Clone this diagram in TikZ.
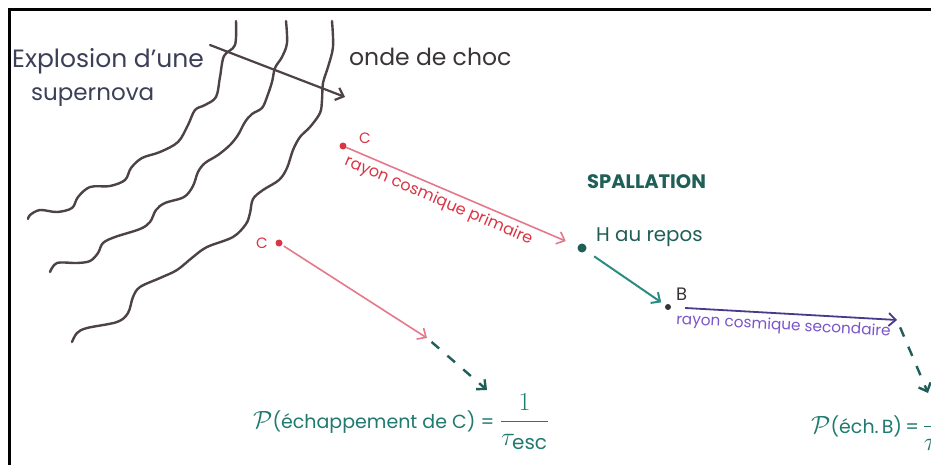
\documentclass[tikz,border=0pt]{standalone}
\usepackage{amsmath}
\usepackage{graphicx}
\usepackage{fontspec}
\setmainfont{Poppins}
\usetikzlibrary{arrows.meta}
\definecolor{slate}{HTML}{3B4058}
\definecolor{darkg}{HTML}{3A3435}
\definecolor{wavec}{HTML}{4D4244}
\definecolor{redc}{HTML}{D93545}
\definecolor{pinkc}{HTML}{E5788A}
\definecolor{tealt}{HTML}{1F5F58}
\definecolor{teala}{HTML}{2C8B82}
\definecolor{tealf}{HTML}{1F7A70}
\definecolor{purl}{HTML}{4B3A8C}
\definecolor{purt}{HTML}{7A55C8}
\newcommand{\escfrac}{\scalebox{1.5}{$\dfrac{1}{\tau_{\mathrm{esc}}}$}}
\begin{document}
\begin{tikzpicture}[x=1pt,y=-1pt,
  wave/.style={draw=wavec, line width=2.4pt, line cap=round, line join=round},
  barb/.style={-{Straight Barb[length=7pt,width=13pt]}},
  reddot/.style={circle, fill=redc, inner sep=0pt, minimum size=7pt},
  tdot/.style={circle, fill=tealt, inner sep=0pt, minimum size=9pt},
  bdot/.style={circle, fill=darkg, inner sep=0pt, minimum size=6pt},
  lbl/.style={anchor=base west, inner sep=0pt},
  dashy/.style={draw=tealt, line width=2.4pt, dash pattern=on 10pt off 11pt, barb}
]
\useasboundingbox (0,0) rectangle (931,464);
\clip (0,0) rectangle (931,464);
\fill[white] (0,0) rectangle (931,464);
% frame
\draw[line width=3pt] (9,465) -- (9,9.5) -- (932,9.5);

% waves
\draw[wave] plot[smooth, tension=0.55] coordinates {(236,21) (235,45) (224,56) (220,77) (216,97) (205,105) (195,110) (188,125) (178,142) (160,152) (142,158) (131,168) (125,180) (110,186) (90,187) (78,197) (72,208) (57,212) (40,210) (30,215) (28,219)};
\draw[wave] plot[smooth, tension=0.55] coordinates {(286,21) (287,43) (282,57) (275,68) (272,82) (267,97) (262,108) (252,114) (245,122) (238,135) (230,145) (218,155) (205,163) (198,172) (193,186) (184,197) (165,203) (156,210) (150,222) (140,229) (115,237) (103,243) (98,253) (90,261) (77,263) (57,263) (50,272)};
\draw[wave] plot[smooth, tension=0.55] coordinates {(332,21) (333,47) (328,67) (323,83) (322,100) (320,113) (310,127) (300,137) (293,150) (287,168) (279,180) (263,190) (253,199) (250,213) (246,224) (233,237) (207,247) (193,257) (177,270) (160,278) (140,287) (133,297) (128,313) (117,322) (87,328) (77,333) (72,342)};

% shock arrow
\coordinate (sa) at (210,45);
\coordinate (sb) at (345,97);
\draw[wavec, line width=2.2pt, line cap=round, barb] (sa) -- (sb);

% texts top-left
\node[lbl, text=slate, font=\fontsize{25}{28}\selectfont] (expl) at (12,67) {Explosion d'une};
\node[lbl, text=slate, font=\fontsize{23}{26}\selectfont] (sn) at (31,100) {supernova};
\node[lbl, text=darkg, font=\fontsize{23.5}{26}\selectfont] (onde) at (349,65) {onde de choc};

% primary ray
\node[reddot] (c1) at (343,146) {};
\node[lbl, text=redc, font=\fontsize{15}{17}\selectfont] (c1l) at (359,143) {C};
\node[tdot] (h) at (582,248) {};
\node[lbl, text=tealt, font=\fontsize{19.8}{22}\selectfont] (hl) at (596,241) {H au repos};
\node[lbl, text=tealt, font=\bfseries\fontsize{19.5}{22}\selectfont] (spal) at (587,188) {SPALLATION};
\draw[pinkc, line width=1.6pt, barb, shorten >=13pt] (c1) -- node[sloped, below, text=redc, font=\fontsize{16}{18}\selectfont, inner sep=4pt, pos=0.42] (prim) {rayon cosmique primaire} (h);

% H -> B
\node[bdot] (b) at (668,307) {};
\node[lbl, text=darkg, font=\fontsize{18}{20}\selectfont] (bl) at (676,300) {B};
\draw[teala, line width=2pt, barb, shorten <=10pt, shorten >=5pt] (h) -- (b);

% secondary ray
\coordinate (secend) at (897,320);
\draw[purl, line width=1.8pt, barb, shorten <=14pt] (b) -- node[sloped, below, text=purt, font=\fontsize{15.3}{17}\selectfont, inner sep=4pt, pos=0.5] (sec) {rayon cosmique secondaire} (secend);
\coordinate (escB) at (928,393);
\draw[dashy, shorten <=8pt] (secend) -- (escB);

% lower C
\node[reddot] (c2) at (279,243) {};
\node[lbl, text=redc, font=\fontsize{15}{17}\selectfont] (c2l) at (256,248) {C};
\coordinate (c2m) at (427,338);
\draw[pinkc, line width=1.6pt, barb, shorten <=2pt] (c2) -- (c2m);
\coordinate (c2e) at (487,390);
\draw[dashy, shorten <=6pt] (c2m) -- (c2e);

% formulas
\node[lbl, text=tealf, font=\fontsize{19}{22}\selectfont] (pc) at (253,428) {{\fontsize{28}{30}\selectfont$\mathcal{P}$}(échappement de C) = \escfrac};
\node[lbl, text=tealf, font=\fontsize{19}{22}\selectfont] (pb) at (811,433) {{\fontsize{28}{30}\selectfont$\mathcal{P}$}(éch.\,B)\,=\,\escfrac};
\end{tikzpicture}
\end{document}
